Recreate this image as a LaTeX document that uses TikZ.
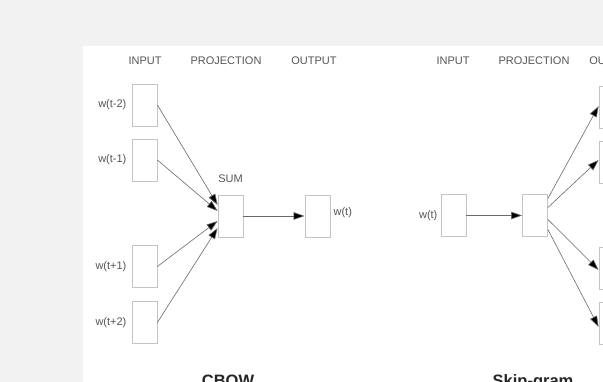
\documentclass[tikz,border=0pt]{standalone}
\usepackage{fontspec}
\setmainfont{Liberation Sans}
\usetikzlibrary{arrows.meta}
\definecolor{bg}{HTML}{F2F2F2}
\definecolor{boxline}{HTML}{C4C4C4}
\definecolor{wire}{HTML}{6A6A6A}
\definecolor{txt}{HTML}{555555}
\begin{document}
\begin{tikzpicture}[x=1pt,y=-1pt,
  cell/.style={draw=boxline,line width=0.8pt,minimum width=25pt,minimum height=42pt,inner sep=0pt,fill=white},
  hdr/.style={font=\fontsize{11}{13}\selectfont,text=txt,inner sep=0pt},
  lbl/.style={font=\fontsize{11}{13}\selectfont,text=txt,inner sep=0pt},
  ttl/.style={font=\fontsize{16.5}{19}\selectfont\bfseries,text=black!85,inner sep=0pt,anchor=base},
  wirearrow/.style={draw=wire,line width=0.6pt,-{Triangle[length=11pt,width=7.5pt,fill=black]}}]
\useasboundingbox (0,0) rectangle (603,382);
\clip (0,0) rectangle (603,382);
\fill[bg] (0,0) rectangle (603,382);
\fill[white] (83,46) rectangle (603,382);
% CBOW headers
\node[hdr] (h1) at (145,61) {INPUT};
\node[hdr] (h2) at (226,61) {PROJECTION};
\node[hdr] (h3) at (314,61) {OUTPUT};
% CBOW boxes
\node[cell] (c1) at (144.5,105) {};
\node[cell] (c2) at (144.5,160) {};
\node[cell] (c3) at (144.5,266.5) {};
\node[cell] (c4) at (144.5,322.5) {};
\node[cell] (sum) at (230.5,216) {};
\node[cell] (out) at (317.5,216) {};
\node[lbl,anchor=east] (l1) at ([xshift=-5pt]c1.west) {w(t-2)};
\node[lbl,anchor=east] (l2) at ([xshift=-5pt]c2.west) {w(t-1)};
\node[lbl,anchor=east] (l3) at ([xshift=-5pt]c3.west) {w(t+1)};
\node[lbl,anchor=east] (l4) at ([xshift=-5pt]c4.west) {w(t+2)};
\node[lbl] (suml) at (230.5,179) {SUM};
\node[lbl,anchor=west] (lo) at ([xshift=3pt,yshift=3pt]out.east) {w(t)};
\draw[wirearrow] (c1.east) -- ([yshift=11pt]sum.west);
\draw[wirearrow] (c2.east) -- ([yshift=5pt]sum.west);
\draw[wirearrow] (c3.east) -- ([yshift=-5pt]sum.west);
\draw[wirearrow] (c4.east) -- ([yshift=-12pt]sum.west);
\draw[wirearrow] (sum.east) -- (out.west);
\node[ttl] (t1) at (228,386) {CBOW};
% Skip-gram headers
\node[hdr] (s1) at (453,61) {INPUT};
\node[hdr] (s2) at (534,61) {PROJECTION};
\node[hdr] (s3) at (612,61) {OUTPUT};
% Skip-gram boxes
\node[cell] (sin) at (453.5,215.5) {};
\node[cell] (sproj) at (535,215.5) {};
\node[cell] (o1) at (611.5,107) {};
\node[cell] (o2) at (611.5,162) {};
\node[cell] (o3) at (611.5,268) {};
\node[cell] (o4) at (611.5,323) {};
\node[lbl,anchor=east] (sl) at ([xshift=-3pt]sin.west) {w(t)};
\draw[wirearrow] (sin.east) -- (sproj.west);
\draw[wirearrow] ([yshift=17pt]sproj.east) -- ([yshift=1pt]o1.west);
\draw[wirearrow] ([yshift=8pt]sproj.east) -- ([yshift=2pt]o2.west);
\draw[wirearrow] ([yshift=-4pt]sproj.east) -- ([yshift=-2pt]o3.west);
\draw[wirearrow] ([yshift=-14pt]sproj.east) -- ([yshift=-4pt]o4.west);
\node[ttl] (t2) at (533,386) {Skip-gram};
\end{tikzpicture}
\end{document}
